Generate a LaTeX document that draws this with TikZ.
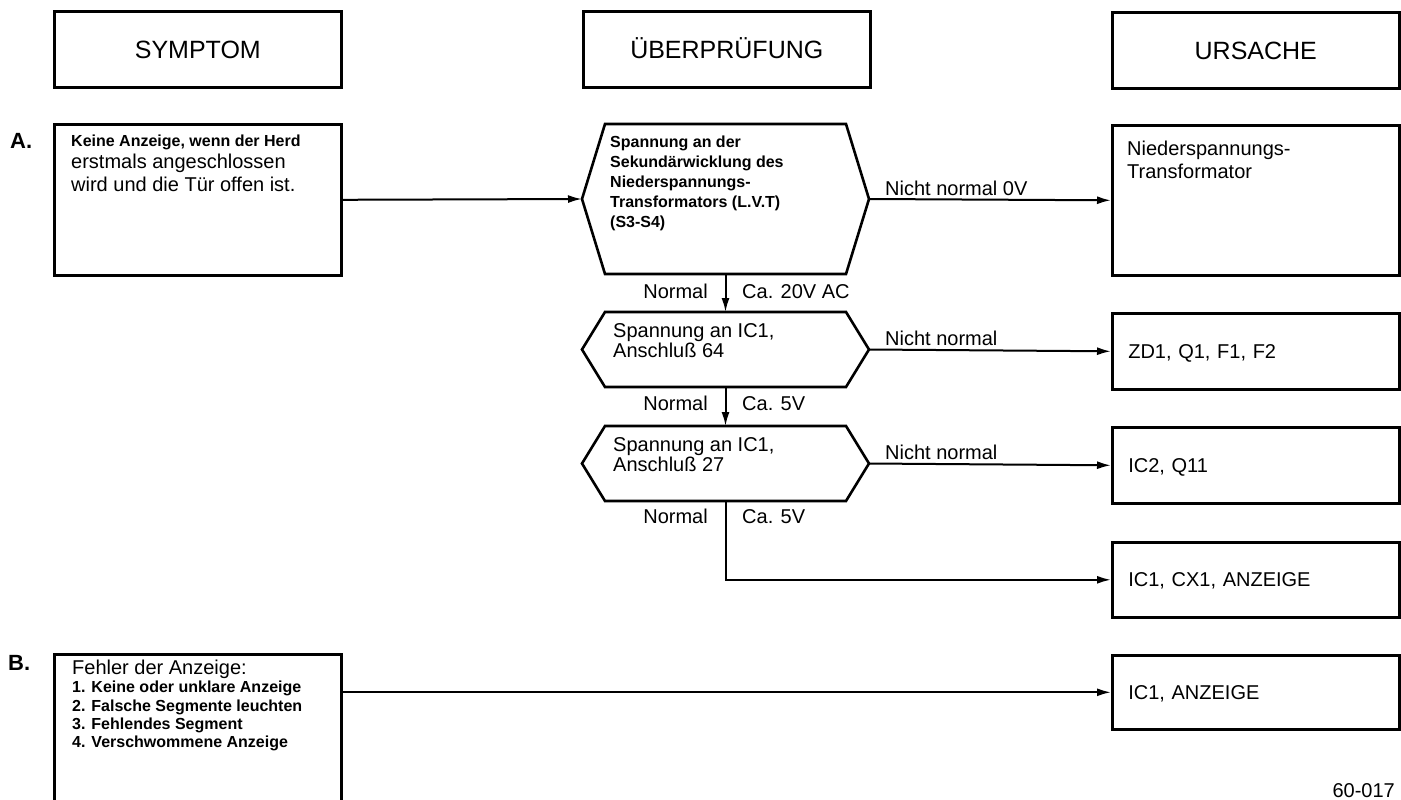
\documentclass[tikz,border=0pt]{standalone}
\usepackage{fontspec}
\setmainfont{Liberation Sans}
\usetikzlibrary{arrows.meta,calc}
\newcommand{\fhdr}{\fontsize{25}{30}\selectfont}
\newcommand{\fnrm}{\fontsize{20}{24}\selectfont}
\newcommand{\fsml}{\fontsize{16}{19}\selectfont\bfseries}
\newcommand{\flab}{\fontsize{22}{26}\selectfont\bfseries}
\begin{document}
\begin{tikzpicture}[x=1pt,y=-1pt,
  box/.style={draw,line width=2.6pt,minimum width=287pt,anchor=north west,inner sep=0pt,font=\fnrm},
  hdrbox/.style={box,minimum height=76pt,font=\fhdr,text height=18pt,text depth=0pt},
  hexbox/.style={inner sep=0pt,outer sep=0pt,minimum width=287pt},
  hexline/.style={line width=2.6pt,line join=miter},
  conn/.style={line width=2pt,-{Latex[length=14pt,width=8pt]}},
  txt/.style={anchor=base west,inner sep=0pt,font=\fnrm},
  txtr/.style={anchor=base east,inner sep=0pt,font=\fnrm},
  stxt/.style={anchor=base west,inner sep=0pt,font=\fsml},
  lab/.style={anchor=base west,inner sep=0pt,font=\flab},
  rtxt/.style={box,text width=255pt,align=left,text height=14.3pt,text depth=0pt,inner xsep=16pt}
]
\useasboundingbox (0,0) rectangle (1401,800);

% headers
\node[hdrbox] (hs) at (53,10) {SYMPTOM};
\node[hdrbox] (hu) at (582,10) {ÜBERPRÜFUNG};
\node[hdrbox] (hr) at (1111,11) {URSACHE};

% section labels
\node[lab] (la) at (10,148) {A.};
\node[lab] (lb) at (8,670) {B.};

% symptom boxes
\node[box,minimum height=151pt] (a) at (53,123) {};
\node[stxt] (a1) at (71,146) {Keine Anzeige, wenn der Herd};
\node[txt] (a2) at (71,168) {erstmals angeschlossen};
\node[txt] (a3) at (71,191) {wird und die Tür offen ist.};

\node[box,minimum height=190pt] (b) at (53,653) {};
\node[txt] (b0) at (72,674) {Fehler der Anzeige:};
\node[stxt] (b1) at (72,692) {1. Keine oder unklare Anzeige};
\node[stxt] (b2) at (72,711) {2. Falsche Segmente leuchten};
\node[stxt] (b3) at (72,729) {3. Fehlendes Segment};
\node[stxt] (b4) at (72,747) {4. Verschwommene Anzeige};

% check hexagons
\node[hexbox,minimum height=150pt] (h1) at (725.5,199) {};
\node[hexbox,minimum height=75pt] (h2) at (725.5,349.5) {};
\node[hexbox,minimum height=75pt] (h3) at (725.5,463.5) {};
\foreach \h in {h1,h2,h3}{
  \draw[hexline] ($(\h.north west)+(23,0)$) -- ($(\h.north east)+(-23,0)$) -- (\h.east)
    -- ($(\h.south east)+(-23,0)$) -- ($(\h.south west)+(23,0)$) -- (\h.west) -- cycle;
}
\node[stxt] (h1t1) at (610,147) {Spannung an der};
\node[stxt] (h1t2) at (610,167) {Sekundärwicklung des};
\node[stxt] (h1t3) at (610,187) {Niederspannungs-};
\node[stxt] (h1t4) at (610,207) {Transformators (L.V.T)};
\node[stxt] (h1t5) at (610,227) {(S3-S4)};
\node[txt] (h2t1) at (613,337) {Spannung an IC1,};
\node[txt] (h2t2) at (613,357) {Anschluß 64};
\node[txt] (h3t1) at (613,451) {Spannung an IC1,};
\node[txt] (h3t2) at (613,471) {Anschluß 27};

% cause boxes
\node[box,minimum height=150pt] (r1) at (1111,124) {};
\node[txt] (r1t1) at (1127,155) {Niederspannungs-};
\node[txt] (r1t2) at (1127,178) {Transformator};
\node[rtxt,minimum height=76pt] (r2) at (1111,312) {ZD1, Q1, F1, F2};
\node[rtxt,minimum height=76pt] (r3) at (1111,426) {IC2, Q11};
\node[rtxt,minimum height=75pt] (r4) at (1111,541) {IC1, CX1, ANZEIGE};
\node[rtxt,minimum height=74pt] (r5) at (1111,654) {IC1, ANZEIGE};

% connectors
\draw[conn] (a.east) -- (h1.west);
\draw[conn] (h1.east) -- (r1.west);
\draw[conn] (h2.east) -- (r2.west);
\draw[conn] (h3.east) -- (r3.west);
\draw[conn] (h1.south) -- (h2.north);
\draw[conn] (h2.south) -- (h3.north);
\draw[conn] (h3.south) |- (r4.west);
\draw[conn] (b.east |- r5.west) -- (r5.west);

% connector labels
\node[txt] (n1) at (885,195) {Nicht normal 0V};
\node[txt] (n2) at (885,345) {Nicht normal};
\node[txt] (n3) at (885,459) {Nicht normal};
\node[txtr] (o1) at (708,298) {Normal};
\node[txt] (c1) at (742,298) {Ca. 20V AC};
\node[txtr] (o2) at (708,410) {Normal};
\node[txt] (c2) at (742,410) {Ca. 5V};
\node[txtr] (o3) at (708,523) {Normal};
\node[txt] (c3) at (742,523) {Ca. 5V};

% figure number
\node[txtr] (fig) at (1395,797) {60-017};
\end{tikzpicture}
\end{document}
